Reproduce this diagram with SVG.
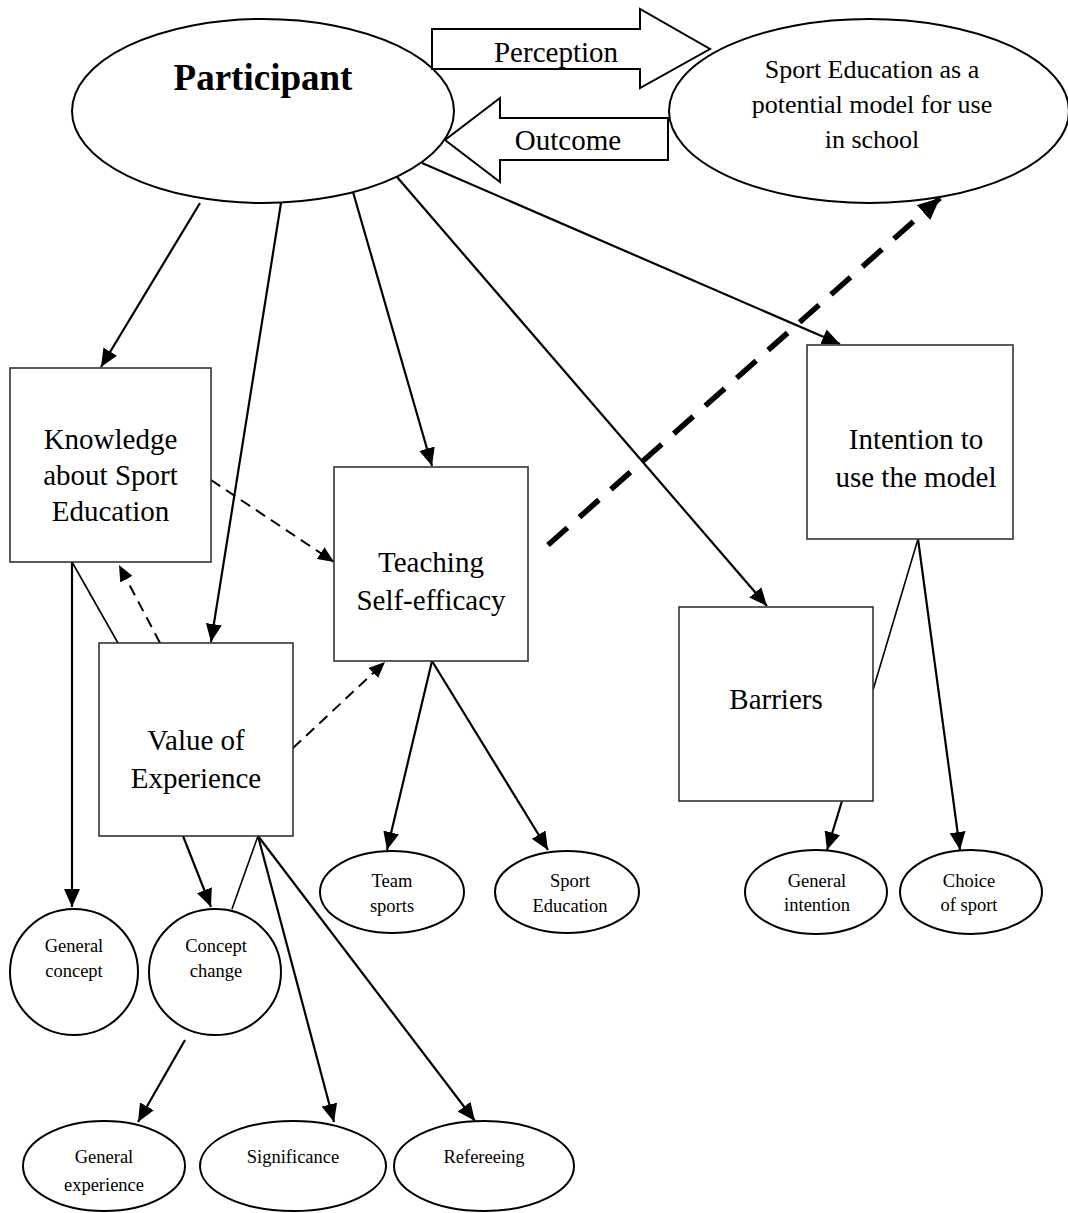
<svg xmlns="http://www.w3.org/2000/svg" width="1068" height="1213" viewBox="0 0 1068 1213">
<style>
  .bg { fill: #ffffff; }
  .ell { fill: #ffffff; stroke: #000000; stroke-width: 2; }
  .box { fill: #ffffff; stroke: #333333; stroke-width: 1.6; }
  .big { fill: #ffffff; stroke: #000000; stroke-width: 2; }
  text { font-family: "Liberation Serif", "Times New Roman", serif; fill: #000000; text-anchor: middle; }
  .t29 { font-size: 29px; }
  .t26 { font-size: 26px; }
  .t18 { font-size: 18.5px; }
  .tb { font-size: 37px; font-weight: bold; }
  .arr { fill: none; stroke: #000000; stroke-width: 2.2; marker-end: url(#ah); }
  .thin { fill: none; stroke: #000000; stroke-width: 1.6; }
  .dash { fill: none; stroke: #000000; stroke-width: 2; stroke-dasharray: 11 7; marker-end: url(#ahs); }
  .thick { fill: none; stroke: #000000; stroke-width: 5.5; stroke-dasharray: 26 16; marker-end: url(#ahb); }
</style>
<defs>
  <marker id="ah" markerUnits="userSpaceOnUse" markerWidth="18" markerHeight="16" refX="18" refY="8" orient="auto">
    <path d="M0,0 L18,8 L0,16 Z" fill="#000000"/>
  </marker>
  <marker id="ahs" markerUnits="userSpaceOnUse" markerWidth="16" markerHeight="14" refX="16" refY="7" orient="auto">
    <path d="M0,0 L16,7 L0,14 Z" fill="#000000"/>
  </marker>
  <marker id="ahb" markerUnits="userSpaceOnUse" markerWidth="22" markerHeight="20" refX="22" refY="10" orient="auto">
    <path d="M0,0 L22,10 L0,20 Z" fill="#000000"/>
  </marker>
</defs>
<rect class="bg" x="0" y="0" width="1068" height="1213"/>

<g id="connectors">
  <!-- Participant outgoing -->
  <line class="arr" x1="200" y1="203" x2="101" y2="367"/>
  <line class="arr" x1="281" y1="203" x2="211" y2="642"/>
  <line class="arr" x1="353" y1="192" x2="432" y2="466"/>
  <line class="arr" x1="397" y1="177" x2="767" y2="606"/>
  <line class="arr" x1="422" y1="163" x2="840" y2="344"/>
  <!-- dashed influences -->
  <line class="dash" x1="211" y1="480" x2="334" y2="562"/>
  <line class="dash" x1="160" y1="643" x2="119" y2="565"/>
  <line class="dash" x1="293" y1="748" x2="385" y2="662"/>
  <line class="thick" x1="548" y1="545" x2="940" y2="198"/>
  <!-- Knowledge -->
  <line class="arr" x1="72" y1="562" x2="72" y2="907"/>
  <line class="thin" x1="72" y1="562" x2="118" y2="643"/>
  <!-- Value of Experience -->
  <line class="arr" x1="183" y1="836" x2="211" y2="907"/>
  <line class="thin" x1="258" y1="836" x2="232" y2="909"/>
  <line class="arr" x1="258" y1="836" x2="334" y2="1122"/>
  <line class="arr" x1="258" y1="836" x2="475" y2="1121"/>
  <line class="arr" x1="185" y1="1040" x2="138" y2="1122"/>
  <!-- Teaching -->
  <line class="arr" x1="432" y1="661" x2="387" y2="850"/>
  <line class="arr" x1="432" y1="661" x2="548" y2="850"/>
  <!-- Barriers / Intention -->
  <line class="arr" x1="842" y1="801" x2="827" y2="850"/>
  <line class="arr" x1="918" y1="539" x2="960" y2="850"/>
  <line class="thin" x1="918" y1="539" x2="873" y2="690"/>
</g>

<g id="participant">
  <ellipse class="ell" cx="263" cy="111" rx="191" ry="92"/>
  <text class="tb" x="263" y="90">Participant</text>
</g>

<g id="perception">
  <polygon class="big" points="432,29 640,29 640,9 710,49 640,88 640,69 432,69"/>
  <text class="t29" x="556" y="62">Perception</text>
</g>

<g id="outcome">
  <polygon class="big" points="668,118 500,118 500,98 445,140 500,182 500,160 668,160"/>
  <text class="t29" x="568" y="150">Outcome</text>
</g>

<g id="sport-education-model">
  <ellipse class="ell" cx="869" cy="111" rx="200" ry="92"/>
  <text class="t26" x="872" y="78">Sport Education as a</text>
  <text class="t26" x="872" y="113">potential model for use</text>
  <text class="t26" x="872" y="148">in school</text>
</g>

<g id="knowledge">
  <rect class="box" x="10" y="368" width="201" height="194"/>
  <text class="t29" x="110.5" y="449">Knowledge</text>
  <text class="t29" x="110.5" y="485">about Sport</text>
  <text class="t29" x="110.5" y="521">Education</text>
</g>

<g id="teaching">
  <rect class="box" x="334" y="467" width="194" height="194"/>
  <text class="t29" x="431" y="572">Teaching</text>
  <text class="t29" x="431" y="610">Self-efficacy</text>
</g>

<g id="value">
  <rect class="box" x="99" y="643" width="194" height="193"/>
  <text class="t29" x="196" y="750">Value of</text>
  <text class="t29" x="196" y="788">Experience</text>
</g>

<g id="intention">
  <rect class="box" x="807" y="345" width="206" height="194"/>
  <text class="t29" x="916" y="449">Intention to</text>
  <text class="t29" x="916" y="487">use the model</text>
</g>

<g id="barriers">
  <rect class="box" x="679" y="607" width="194" height="194"/>
  <text class="t29" x="776" y="709">Barriers</text>
</g>

<g id="general-concept">
  <ellipse class="ell" cx="74" cy="972" rx="64" ry="63"/>
  <text class="t18" x="74" y="952">General</text>
  <text class="t18" x="74" y="977">concept</text>
</g>

<g id="concept-change">
  <ellipse class="ell" cx="215" cy="972" rx="66" ry="63"/>
  <text class="t18" x="216" y="952">Concept</text>
  <text class="t18" x="216" y="977">change</text>
</g>

<g id="team-sports">
  <ellipse class="ell" cx="392" cy="892" rx="72" ry="41"/>
  <text class="t18" x="392" y="887">Team</text>
  <text class="t18" x="392" y="912">sports</text>
</g>

<g id="sport-education-small">
  <ellipse class="ell" cx="567" cy="892" rx="72" ry="41"/>
  <text class="t18" x="570" y="887">Sport</text>
  <text class="t18" x="570" y="912">Education</text>
</g>

<g id="general-intention">
  <ellipse class="ell" cx="816" cy="892" rx="71" ry="42"/>
  <text class="t18" x="817" y="887">General</text>
  <text class="t18" x="817" y="911">intention</text>
</g>

<g id="choice-of-sport">
  <ellipse class="ell" cx="971" cy="892" rx="71" ry="42"/>
  <text class="t18" x="969" y="887">Choice</text>
  <text class="t18" x="969" y="911">of sport</text>
</g>

<g id="general-experience">
  <ellipse class="ell" cx="104" cy="1166" rx="81" ry="45"/>
  <text class="t18" x="104" y="1163">General</text>
  <text class="t18" x="104" y="1191">experience</text>
</g>

<g id="significance">
  <ellipse class="ell" cx="293" cy="1166" rx="93" ry="45"/>
  <text class="t18" x="293" y="1163">Significance</text>
</g>

<g id="refereeing">
  <ellipse class="ell" cx="484" cy="1166" rx="90" ry="45"/>
  <text class="t18" x="484" y="1163">Refereeing</text>
</g>
</svg>
